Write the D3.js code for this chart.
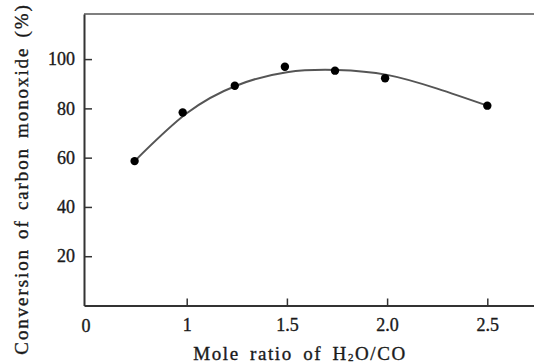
<!DOCTYPE html>
<html>
<head>
<meta charset="utf-8">
<script src="https://cdn.jsdelivr.net/npm/d3@7/dist/d3.min.js"></script>
<style>
  html, body { margin: 0; padding: 0; background: #fff; }
  svg { display: block; }
  text { font-family: "Liberation Serif", "Times New Roman", "DejaVu Serif", serif; fill: #1a1a1a; stroke: #1a1a1a; stroke-width: 0.35px; }
</style>
</head>
<body>
<svg id="chart" width="534" height="363"></svg>
<script>
// Measured conversion of CO against the H2O/CO mole ratio
const ratio      = [0.74, 0.98, 1.24, 1.49, 1.74, 1.99, 2.5];
const conversion = [58.6, 78.3, 89.2, 96.9, 95.3, 92.2, 81.1];

// Smoothed trend line drawn through the measurements
const trendRatio      = [0.74, 1.0, 1.25, 1.5, 1.75, 2.0, 2.25, 2.5];
const trendConversion = [58.6, 78.0, 89.3, 94.7, 95.6, 93.6, 88.0, 81.1];

const xTickValues = [1, 1.5, 2.0, 2.5];
const xTickLabels = ["1", "1.5", "2.0", "2.5"];
const yTickValues = [20, 40, 60, 80, 100];

const svg = d3.select("#chart");
const plotLeft = 84, plotRight = 534, plotTop = 14, plotBottom = 305.5;

const x = d3.scaleLinear().domain([0.4875, 2.733]).range([plotLeft, plotRight]);
const y = d3.scaleLinear().domain([0, 118.3]).range([plotBottom, plotTop]);

// frame: top rule
svg.append("line")
  .attr("x1", plotLeft).attr("x2", plotRight)
  .attr("y1", plotTop).attr("y2", plotTop)
  .attr("stroke", "#555").attr("stroke-width", 1.3);

// x axis
const xAxis = svg.append("g")
  .attr("transform", `translate(0,${plotBottom})`)
  .call(d3.axisBottom(x)
    .tickValues(xTickValues)
    .tickFormat((d, i) => xTickLabels[i])
    .tickSizeInner(-7).tickSizeOuter(0).tickPadding(13));
xAxis.select(".domain").attr("stroke", "#333").attr("stroke-width", 2);
xAxis.selectAll(".tick line").attr("stroke", "#333").attr("stroke-width", 1.5);
xAxis.selectAll(".tick text").attr("font-size", 18);

// origin label of the broken x axis
svg.append("text")
  .attr("x", plotLeft + 2).attr("y", plotBottom + 26)
  .attr("text-anchor", "middle")
  .attr("font-size", 18)
  .text("0");

// y axis
const yAxis = svg.append("g")
  .attr("transform", `translate(${plotLeft},0)`)
  .call(d3.axisLeft(y)
    .tickValues(yTickValues)
    .tickSizeInner(-8).tickSizeOuter(0).tickPadding(9));
yAxis.select(".domain").attr("stroke", "#333").attr("stroke-width", 2);
yAxis.selectAll(".tick line").attr("stroke", "#333").attr("stroke-width", 1.5);
yAxis.selectAll(".tick text").attr("font-size", 18);

// trend curve
const trend = trendRatio.map((r, i) => [r, trendConversion[i]]);
svg.append("path")
  .datum(trend)
  .attr("fill", "none")
  .attr("stroke", "#555")
  .attr("stroke-width", 2)
  .attr("d", d3.line().x(d => x(d[0])).y(d => y(d[1])).curve(d3.curveNatural));

// measured points
svg.append("g").selectAll("circle")
  .data(ratio.map((r, i) => [r, conversion[i]]))
  .join("circle")
  .attr("cx", d => x(d[0]))
  .attr("cy", d => y(d[1]))
  .attr("r", 4.2)
  .attr("fill", "#000");

// axis titles
const xTitle = svg.append("text")
  .attr("x", 300).attr("y", 359.5)
  .attr("text-anchor", "middle")
  .attr("font-size", 19)
  .attr("letter-spacing", 1.6)
  .attr("word-spacing", 4);
xTitle.append("tspan").text("Mole ratio of H");
xTitle.append("tspan").attr("font-size", 11).attr("dy", 1.5).text("2");
xTitle.append("tspan").attr("dy", -1.5).text("O/CO");

svg.append("text")
  .attr("transform", "translate(28,179) rotate(-90)")
  .attr("text-anchor", "middle")
  .attr("font-size", 19)
  .attr("letter-spacing", 1.9)
  .attr("word-spacing", 2.5)
  .text("Conversion of carbon monoxide (%)");
</script>
</body>
</html>
